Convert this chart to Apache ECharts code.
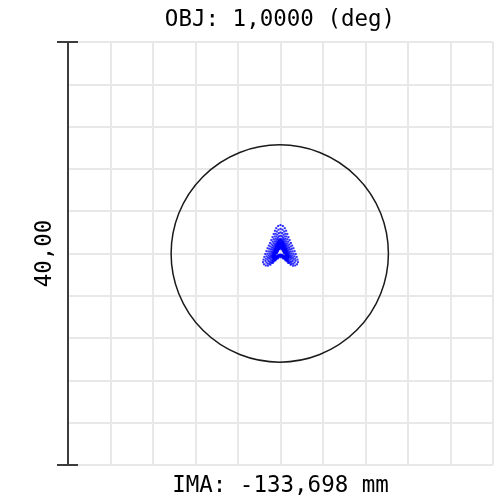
<!DOCTYPE html>
<html>
<head>
<meta charset="utf-8">
<script src="https://cdn.jsdelivr.net/npm/echarts@6/dist/echarts.min.js"></script>
<style>html,body{margin:0;padding:0;background:#fff}#c{width:501px;height:498px}</style>
</head>
<body>
<div id="c"></div>
<script>
// Axis / annotation texts
var titleText = 'OBJ: 1,0000 (deg)';
var imaText = 'IMA: -133,698 mm';
var scaleText = '40,00';
// Axis range (units of the plot, box = 40)
var axisMin = -20, axisMax = 20, axisStep = 4;
// Scale bar: x, y from, y to
var scaleBar = [[-20, -20, 20]];
// Airy circle: center x, center y, radius
var airy = [[-0.07, 0, 10.25]];

// Spot points, ring by ring (outer to inner)
var ring1 = [[0,2.69],[0.22,2.6],[0.40,2.4],[0.53,2.15],[0.64,1.85],[0.75,1.55],[0.86,1.27],[0.98,1.0],[1.10,0.75],[1.22,0.5],[1.33,0.22],[1.43,-0.05],[1.52,-0.32],[1.60,-0.58],[1.64,-0.82],[1.55,-1.02],[1.38,-1.13],[1.18,-1.15],[0.95,-1.06],[0.72,-0.88],[0.48,-0.66],[0.24,-0.46],[0,-0.36],[-0.24,-0.46],[-0.48,-0.66],[-0.72,-0.88],[-0.95,-1.06],[-1.18,-1.15],[-1.38,-1.13],[-1.55,-1.02],[-1.64,-0.82],[-1.60,-0.58],[-1.52,-0.32],[-1.43,-0.05],[-1.33,0.22],[-1.22,0.5],[-1.10,0.75],[-0.98,1.0],[-0.86,1.27],[-0.75,1.55],[-0.64,1.85],[-0.53,2.15],[-0.40,2.4],[-0.22,2.6]];
var ring2 = [[0,2.33],[0.19,2.25],[0.34,2.08],[0.46,1.86],[0.55,1.61],[0.65,1.35],[0.74,1.11],[0.84,0.87],[0.95,0.66],[1.05,0.44],[1.14,0.2],[1.23,-0.03],[1.31,-0.26],[1.38,-0.49],[1.41,-0.69],[1.33,-0.86],[1.19,-0.96],[1.01,-0.98],[0.82,-0.9],[0.62,-0.74],[0.41,-0.55],[0.21,-0.38],[0,-0.3],[-0.21,-0.38],[-0.41,-0.55],[-0.62,-0.74],[-0.82,-0.9],[-1.01,-0.98],[-1.19,-0.96],[-1.33,-0.86],[-1.41,-0.69],[-1.38,-0.49],[-1.31,-0.26],[-1.23,-0.03],[-1.14,0.2],[-1.05,0.44],[-0.95,0.66],[-0.84,0.87],[-0.74,1.11],[-0.65,1.35],[-0.55,1.61],[-0.46,1.86],[-0.34,2.08],[-0.19,2.25]];
var ring3 = [[0,1.99],[0.16,1.93],[0.29,1.78],[0.39,1.6],[0.47,1.38],[0.55,1.16],[0.63,0.95],[0.72,0.76],[0.80,0.57],[0.89,0.39],[0.97,0.19],[1.04,-0.01],[1.11,-0.21],[1.17,-0.4],[1.20,-0.57],[1.13,-0.72],[1.01,-0.8],[0.86,-0.81],[0.69,-0.75],[0.53,-0.62],[0.35,-0.46],[0.18,-0.31],[0,-0.24],[-0.18,-0.31],[-0.35,-0.46],[-0.53,-0.62],[-0.69,-0.75],[-0.86,-0.81],[-1.01,-0.8],[-1.13,-0.72],[-1.20,-0.57],[-1.17,-0.4],[-1.11,-0.21],[-1.04,-0.01],[-0.97,0.19],[-0.89,0.39],[-0.80,0.57],[-0.72,0.76],[-0.63,0.95],[-0.55,1.16],[-0.47,1.38],[-0.39,1.6],[-0.29,1.78],[-0.16,1.93]];
var ring4 = [[0,1.68],[0.13,1.63],[0.24,1.5],[0.32,1.35],[0.39,1.17],[0.46,0.98],[0.52,0.81],[0.60,0.65],[0.67,0.5],[0.74,0.34],[0.81,0.17],[0.87,0.01],[0.93,-0.16],[0.98,-0.31],[1.00,-0.46],[0.95,-0.58],[0.84,-0.65],[0.72,-0.66],[0.58,-0.61],[0.44,-0.5],[0.29,-0.36],[0.15,-0.24],[0,-0.18],[-0.15,-0.24],[-0.29,-0.36],[-0.44,-0.5],[-0.58,-0.61],[-0.72,-0.66],[-0.84,-0.65],[-0.95,-0.58],[-1.00,-0.46],[-0.98,-0.31],[-0.93,-0.16],[-0.87,0.01],[-0.81,0.17],[-0.74,0.34],[-0.67,0.5],[-0.60,0.65],[-0.52,0.81],[-0.46,0.98],[-0.39,1.17],[-0.32,1.35],[-0.24,1.5],[-0.13,1.63]];
var ring5 = [[0,1.4],[0.11,1.35],[0.2,1.25],[0.27,1.13],[0.32,0.98],[0.38,0.83],[0.43,0.69],[0.49,0.55],[0.55,0.43],[0.61,0.3],[0.67,0.16],[0.72,0.03],[0.76,-0.11],[0.8,-0.24],[0.82,-0.36],[0.78,-0.46],[0.69,-0.52],[0.59,-0.53],[0.48,-0.48],[0.36,-0.39],[0.24,-0.28],[0.12,-0.18],[0,-0.13],[-0.12,-0.18],[-0.24,-0.28],[-0.36,-0.39],[-0.48,-0.48],[-0.59,-0.53],[-0.69,-0.52],[-0.78,-0.46],[-0.82,-0.36],[-0.8,-0.24],[-0.76,-0.11],[-0.72,0.03],[-0.67,0.16],[-0.61,0.3],[-0.55,0.43],[-0.49,0.55],[-0.43,0.69],[-0.38,0.83],[-0.32,0.98],[-0.27,1.13],[-0.2,1.25],[-0.11,1.35]];
var ring5b = [[0,1.27],[0.1,1.23],[0.18,1.14],[0.24,1.02],[0.29,0.89],[0.34,0.75],[0.39,0.63],[0.44,0.51],[0.5,0.39],[0.55,0.28],[0.6,0.15],[0.64,0.03],[0.68,-0.09],[0.72,-0.21],[0.74,-0.31],[0.7,-0.4],[0.62,-0.45],[0.53,-0.46],[0.43,-0.42],[0.32,-0.34],[0.22,-0.24],[0.11,-0.15],[0,-0.11],[-0.11,-0.15],[-0.22,-0.24],[-0.32,-0.34],[-0.43,-0.42],[-0.53,-0.46],[-0.62,-0.45],[-0.7,-0.4],[-0.74,-0.31],[-0.72,-0.21],[-0.68,-0.09],[-0.64,0.03],[-0.6,0.15],[-0.55,0.28],[-0.5,0.39],[-0.44,0.51],[-0.39,0.63],[-0.34,0.75],[-0.29,0.89],[-0.24,1.02],[-0.18,1.14],[-0.1,1.23]];
var ring6 = [[0,1.14],[0.09,1.1],[0.16,1.02],[0.21,0.92],[0.26,0.8],[0.3,0.68],[0.34,0.57],[0.39,0.46],[0.44,0.36],[0.49,0.26],[0.53,0.15],[0.57,0.04],[0.61,-0.07],[0.64,-0.17],[0.66,-0.27],[0.62,-0.35],[0.55,-0.39],[0.47,-0.4],[0.38,-0.36],[0.29,-0.29],[0.19,-0.2],[0.1,-0.12],[-0.1,-0.12],[-0.19,-0.2],[-0.29,-0.29],[-0.38,-0.36],[-0.47,-0.4],[-0.55,-0.39],[-0.62,-0.35],[-0.66,-0.27],[-0.64,-0.17],[-0.61,-0.07],[-0.57,0.04],[-0.53,0.15],[-0.49,0.26],[-0.44,0.36],[-0.39,0.46],[-0.34,0.57],[-0.3,0.68],[-0.26,0.8],[-0.21,0.92],[-0.16,1.02],[-0.09,1.1]];
var ring6b = [[0,1.01],[0.08,0.98],[0.14,0.91],[0.19,0.82],[0.22,0.71],[0.26,0.61],[0.3,0.51],[0.34,0.42],[0.39,0.33],[0.43,0.24],[0.47,0.14],[0.5,0.05],[0.53,-0.05],[0.56,-0.14],[0.57,-0.22],[0.54,-0.29],[0.48,-0.33],[0.41,-0.34],[0.33,-0.31],[0.25,-0.24],[0.17,-0.17],[-0.17,-0.17],[-0.25,-0.24],[-0.33,-0.31],[-0.41,-0.34],[-0.48,-0.33],[-0.54,-0.29],[-0.57,-0.22],[-0.56,-0.14],[-0.53,-0.05],[-0.5,0.05],[-0.47,0.14],[-0.43,0.24],[-0.39,0.33],[-0.34,0.42],[-0.3,0.51],[-0.26,0.61],[-0.22,0.71],[-0.19,0.82],[-0.14,0.91],[-0.08,0.98]];
var ring7 = [[0,0.9],[0.07,0.88],[0.12,0.81],[0.16,0.74],[0.2,0.64],[0.23,0.55],[0.27,0.46],[0.3,0.38],[0.34,0.3],[0.38,0.22],[0.41,0.14],[0.44,0.05],[0.47,-0.03],[0.5,-0.11],[0.51,-0.19],[0.48,-0.25],[0.43,-0.28],[0.37,-0.29],[0.29,-0.26],[-0.29,-0.26],[-0.37,-0.29],[-0.43,-0.28],[-0.48,-0.25],[-0.51,-0.19],[-0.5,-0.11],[-0.47,-0.03],[-0.44,0.05],[-0.41,0.14],[-0.38,0.22],[-0.34,0.3],[-0.3,0.38],[-0.27,0.46],[-0.23,0.55],[-0.2,0.64],[-0.16,0.74],[-0.12,0.81],[-0.07,0.88]];
var ring8 = [[0,0.7],[0.05,0.68],[0.09,0.63],[0.12,0.57],[0.15,0.5],[0.17,0.43],[0.2,0.37],[0.23,0.31],[0.25,0.25],[0.28,0.19],[0.31,0.13],[0.33,0.07],[0.35,0.0],[-0.35,0.0],[-0.33,0.07],[-0.31,0.13],[-0.28,0.19],[-0.25,0.25],[-0.23,0.31],[-0.2,0.37],[-0.17,0.43],[-0.15,0.5],[-0.12,0.57],[-0.09,0.63],[-0.05,0.68]];
var ring9 = [[0,0.54],[0.07,0.49],[0.11,0.4],[-0.11,0.4],[-0.07,0.49]];

var spots = [].concat(ring1, ring2, ring3, ring4, ring5, ring5b, ring6, ring6b, ring7, ring8, ring9);

var FONT = 'DejaVu Sans Mono';
var FS = 22.5;
var chart = echarts.init(document.getElementById('c'), null, {renderer: 'canvas'});
chart.setOption({
  animation: false,
  backgroundColor: '#ffffff',
  grid: {left: 68, right: 8, top: 42, bottom: 33, containLabel: false, outerBoundsMode: 'none'},
  graphic: [{
    type: 'text', x: 280, y: 20,
    style: {text: titleText, fill: '#000', font: FS + 'px "' + FONT + '"', align: 'center', verticalAlign: 'middle'}
  }],
  xAxis: {
    type: 'value', min: axisMin, max: axisMax, interval: axisStep,
    axisLine: {show: false}, axisTick: {show: false}, axisLabel: {show: false},
    splitLine: {show: true, lineStyle: {color: '#e8e8e8', width: 2}},
    name: imaText, nameLocation: 'middle', nameGap: 10,
    nameTextStyle: {fontFamily: FONT, fontSize: FS, color: '#000'}
  },
  yAxis: {
    type: 'value', min: axisMin, max: axisMax, interval: axisStep,
    axisLine: {show: false}, axisTick: {show: false}, axisLabel: {show: false},
    splitLine: {show: true, lineStyle: {color: '#e8e8e8', width: 2}},
    name: scaleText, nameLocation: 'middle', nameGap: 11, nameRotate: 90,
    nameTextStyle: {fontFamily: FONT, fontSize: FS, color: '#000'}
  },
  series: [
    {
      type: 'custom', silent: true, z: 3,
      data: airy,
      renderItem: function (params, api) {
        var c = api.coord([api.value(0), api.value(1)]);
        var s = api.size([api.value(2), api.value(2)]);
        return {type: 'circle', shape: {cx: c[0], cy: c[1], r: (s[0] + s[1]) / 2},
          style: {fill: null, stroke: '#1a1a1a', lineWidth: 1.5}};
      }
    },
    {
      type: 'custom', silent: true, z: 4,
      data: scaleBar,
      renderItem: function (params, api) {
        var top = api.coord([api.value(0), api.value(2)]);
        var bot = api.coord([api.value(0), api.value(1)]);
        var st = {stroke: '#3c3c3c', lineWidth: 2};
        return {type: 'group', children: [
          {type: 'line', shape: {x1: top[0], y1: top[1], x2: bot[0], y2: bot[1]}, style: st},
          {type: 'line', shape: {x1: top[0] - 11, y1: top[1], x2: top[0] + 10, y2: top[1]}, style: st},
          {type: 'line', shape: {x1: bot[0] - 11, y1: bot[1], x2: bot[0] + 10, y2: bot[1]}, style: st}
        ]};
      }
    },
    {
      type: 'scatter', silent: true, z: 5,
      symbol: 'rect', symbolSize: 2,
      itemStyle: {color: '#0000ff'},
      data: spots
    }
  ]
});
</script>
</body>
</html>
